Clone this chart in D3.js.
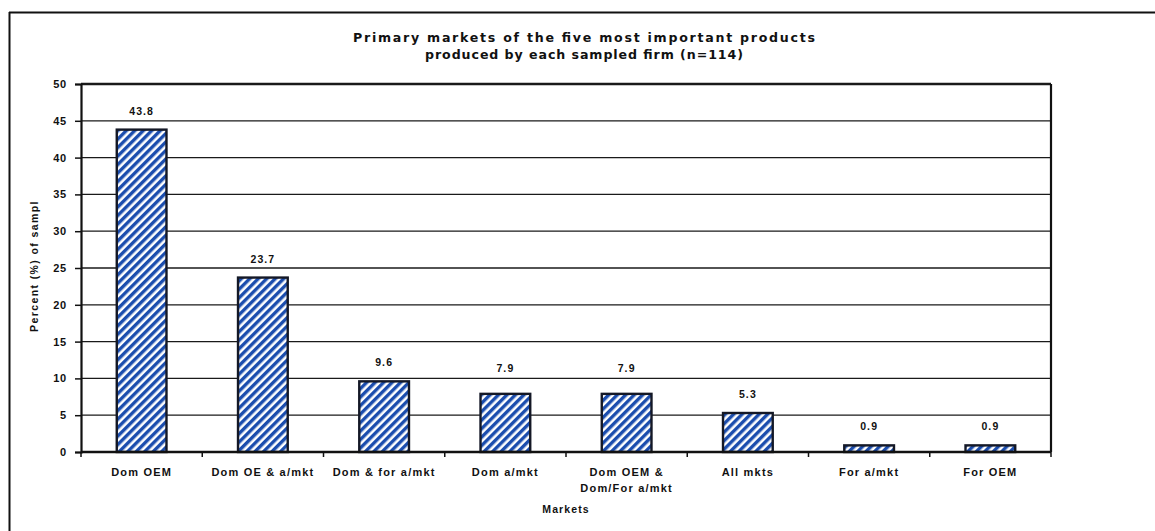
<!DOCTYPE html>
<html>
<head>
<meta charset="utf-8">
<script src="https://cdn.jsdelivr.net/npm/d3@7"></script>
<style>
  html, body { margin: 0; padding: 0; background: #fff; }
  svg { display: block; }
  text { font-family: "Liberation Sans", Arial, sans-serif; font-weight: bold; fill: #111; }
</style>
</head>
<body>
<svg id="chart" width="1155" height="531"></svg>
<script>
// Market categories (two-line labels split on "\n")
const categories = [
  "Dom OEM",
  "Dom OE & a/mkt",
  "Dom & for a/mkt",
  "Dom a/mkt",
  "Dom OEM &\nDom/For a/mkt",
  "All mkts",
  "For a/mkt",
  "For OEM"
];
// Percent of sample per market
const values = [43.8, 23.7, 9.6, 7.9, 7.9, 5.3, 0.9, 0.9];
// Y-axis ticks
const yTicks = [0, 5, 10, 15, 20, 25, 30, 35, 40, 45, 50];

const titleLines = [
  "Primary markets of the five most important products",
  "produced by each sampled firm (n=114)"
];

const svg = d3.select("#chart");
const W = 1155, H = 531;
const plot = { left: 81, right: 1051, top: 84, bottom: 452 };

const x = d3.scaleBand()
  .domain(categories)
  .range([plot.left, plot.right])
  .paddingInner(0.59)
  .paddingOuter(0.295);

const y = d3.scaleLinear()
  .domain([0, 50])
  .range([plot.bottom, plot.top]);

// Diagonal stripe fill for the bars
const defs = svg.append("defs");
const pat = defs.append("pattern")
  .attr("id", "stripes")
  .attr("patternUnits", "userSpaceOnUse")
  .attr("width", 6)
  .attr("height", 6)
  .attr("patternTransform", "rotate(45)");
pat.append("rect").attr("width", 6).attr("height", 6).attr("fill", "#ffffff");
pat.append("rect").attr("width", 3.4).attr("height", 6).attr("fill", "#1b4dae");

// Page frame
svg.append("line")
  .attr("x1", 9).attr("x2", W).attr("y1", 12.5).attr("y2", 12.5)
  .attr("stroke", "#111").attr("stroke-width", 2.2);
svg.append("line")
  .attr("x1", 9.5).attr("x2", 9.5).attr("y1", 12).attr("y2", H)
  .attr("stroke", "#111").attr("stroke-width", 2);

// Title
const titleWidths = [462, 318];
svg.append("g").selectAll("text")
  .data(titleLines)
  .join("text")
  .attr("x", 584)
  .attr("y", (d, i) => 42 + i * 17)
  .attr("text-anchor", "middle")
  .style("font-family", "'DejaVu Sans', sans-serif")
  .style("font-weight", "bold")
  .style("font-size", "12.6px")
  .attr("textLength", (d, i) => titleWidths[i])
  .attr("lengthAdjust", "spacing")
  .text(d => d);

// Horizontal gridlines
const grid = yTicks.filter(t => t > 0);
svg.append("g").selectAll("line")
  .data(grid)
  .join("line")
  .attr("x1", plot.left).attr("x2", plot.right)
  .attr("y1", d => y(d)).attr("y2", d => y(d))
  .attr("stroke", "#1a1a1a")
  .attr("stroke-width", d => d === 50 ? 2.6 : 1.3);

// Right border of the plot area
svg.append("line")
  .attr("x1", plot.right).attr("x2", plot.right)
  .attr("y1", plot.top).attr("y2", plot.bottom)
  .attr("stroke", "#111").attr("stroke-width", 2.2);

// Y axis
const yAxis = d3.axisLeft(y).tickValues(yTicks).tickSize(6).tickPadding(8);
const gy = svg.append("g")
  .attr("transform", `translate(${plot.left},0)`)
  .call(yAxis);
gy.select(".domain").attr("stroke", "#111").attr("stroke-width", 2.2);
gy.selectAll(".tick line").attr("stroke", "#111").attr("stroke-width", 1.5);
gy.selectAll(".tick text")
  .attr("font-size", 11)
  .attr("letter-spacing", 0.8)
  .attr("font-family", "Liberation Sans, Arial, sans-serif")
  .attr("font-weight", "bold")
  .attr("fill", "#111");

// Bars
svg.append("g").selectAll("rect")
  .data(values)
  .join("rect")
  .attr("x", (d, i) => x(categories[i]))
  .attr("width", x.bandwidth())
  .attr("y", d => y(d))
  .attr("height", d => y(0) - y(d))
  .attr("fill", "url(#stripes)")
  .attr("stroke", "#141826")
  .attr("stroke-width", 2.4);

// Value labels: sit above the bar, lifted clear of any gridline they would cross
function labelBaseline(d) {
  let b = y(d) - 15;
  const hit = grid.map(y).find(g => g > b - 9 && g < b + 3);
  return hit !== undefined ? hit - 6 : b;
}
svg.append("g").selectAll("text")
  .data(values)
  .join("text")
  .attr("x", (d, i) => x(categories[i]) + x.bandwidth() / 2)
  .attr("y", labelBaseline)
  .attr("text-anchor", "middle")
  .attr("font-size", 10.5)
  .attr("letter-spacing", 1.1)
  .text(d => d.toFixed(1));

// X axis with ticks at category boundaries
svg.append("line")
  .attr("x1", plot.left).attr("x2", plot.right)
  .attr("y1", y(0)).attr("y2", y(0))
  .attr("stroke", "#111").attr("stroke-width", 2.6);
const step = x.step();
svg.append("g").selectAll("line")
  .data(d3.range(categories.length + 1))
  .join("line")
  .attr("x1", i => plot.left + i * step)
  .attr("x2", i => plot.left + i * step)
  .attr("y1", y(0)).attr("y2", y(0) + 5)
  .attr("stroke", "#111").attr("stroke-width", 1.5);

// Category labels
const xl = svg.append("g").selectAll("text")
  .data(categories)
  .join("text")
  .attr("x", d => x(d) + x.bandwidth() / 2)
  .attr("y", 476)
  .attr("text-anchor", "middle")
  .attr("font-size", 11)
  .attr("letter-spacing", 1.2);
xl.selectAll("tspan")
  .data(d => d.split("\n"))
  .join("tspan")
  .attr("x", function () { return d3.select(this.parentNode).attr("x"); })
  .attr("dy", (d, i) => i === 0 ? 0 : 16)
  .text(d => d);

// Axis titles
svg.append("text")
  .attr("x", (plot.left + plot.right) / 2)
  .attr("y", 513)
  .attr("text-anchor", "middle")
  .attr("font-size", 10.5)
  .attr("letter-spacing", 1.1)
  .text("Markets");

svg.append("text")
  .attr("transform", `translate(38,266) rotate(-90)`)
  .attr("text-anchor", "middle")
  .attr("font-size", 10.5)
  .attr("letter-spacing", 1.4)
  .text("Percent (%) of sampl");
</script>
</body>
</html>
